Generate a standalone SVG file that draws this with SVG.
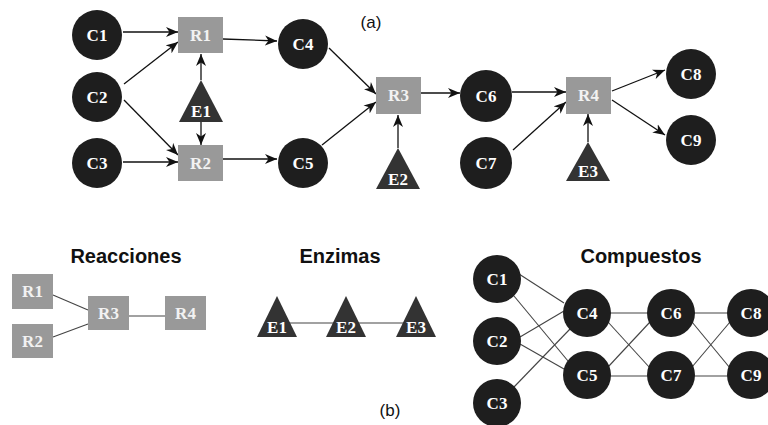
<svg xmlns="http://www.w3.org/2000/svg" width="768" height="425" viewBox="0 0 768 425">
<defs>
<marker id="arr" markerUnits="userSpaceOnUse" markerWidth="13" markerHeight="11" refX="12" refY="5.5" orient="auto">
<path d="M0,0.5 L12,5.5 L0,10.5 L3.5,5.5 z" fill="#111"/>
</marker>
<style>
.c{fill:#1e1e1e}
.r{fill:#999999}
.t{fill:#333333}
.lb{font-family:"Liberation Serif","Times New Roman",serif;font-weight:bold;font-size:17px;text-anchor:middle;fill:#ffffff}
.lr{font-family:"Liberation Serif","Times New Roman",serif;font-weight:bold;font-size:17px;text-anchor:middle;fill:#f2f2f2}
.ttl{font-family:"Liberation Sans",Arial,sans-serif;font-weight:bold;font-size:20px;text-anchor:middle;fill:#111}
.cap{font-family:"Liberation Sans",Arial,sans-serif;font-size:17px;text-anchor:middle;fill:#111}
.a{stroke:#111;stroke-width:1.3;fill:none;marker-end:url(#arr)}
.e{stroke:#444;stroke-width:1.1;fill:none}
</style>
</defs>
<rect width="768" height="425" fill="#ffffff"/>

<text class="cap" x="371" y="28">(a)</text>
<text class="cap" x="390" y="416">(b)</text>
<text class="ttl" x="126" y="263">Reacciones</text>
<text class="ttl" x="340" y="263">Enzimas</text>
<text class="ttl" x="641" y="263">Compuestos</text>

<g id="connectors">
<line class="a" x1="123" y1="32" x2="178" y2="32"/>
<line class="a" x1="124" y1="84" x2="178" y2="42"/>
<line class="a" x1="124" y1="100" x2="178" y2="155"/>
<line class="a" x1="123" y1="162" x2="178" y2="162"/>
<line class="a" x1="201" y1="80" x2="201" y2="54"/>
<line class="a" x1="201" y1="122" x2="201" y2="145"/>
<line class="a" x1="223" y1="39" x2="277" y2="41"/>
<line class="a" x1="223" y1="159" x2="277" y2="159"/>
<line class="a" x1="329" y1="48" x2="376" y2="94"/>
<line class="a" x1="322" y1="145" x2="376" y2="102"/>
<line class="a" x1="421" y1="93" x2="460" y2="93"/>
<line class="a" x1="398" y1="148" x2="398" y2="115"/>
<line class="a" x1="512" y1="92" x2="566" y2="92"/>
<line class="a" x1="513" y1="150" x2="566" y2="102"/>
<line class="a" x1="588" y1="142" x2="588" y2="114"/>
<line class="a" x1="612" y1="91" x2="665" y2="70"/>
<line class="a" x1="612" y1="100" x2="665" y2="135"/>

<line class="e" x1="53" y1="295" x2="88" y2="310"/>
<line class="e" x1="53" y1="337" x2="88" y2="324"/>
<line class="e" x1="129" y1="316" x2="165" y2="316"/>

<line class="e" x1="277" y1="323" x2="416" y2="323"/>

<line class="e" x1="519" y1="274" x2="564" y2="303"/>
<line class="e" x1="514" y1="296" x2="568" y2="361"/>
<line class="e" x1="520" y1="337" x2="564" y2="311"/>
<line class="e" x1="520" y1="344" x2="564" y2="369"/>
<line class="e" x1="514" y1="387" x2="570" y2="329"/>
<line class="e" x1="608" y1="313" x2="650" y2="313"/>
<line class="e" x1="608" y1="322" x2="650" y2="368"/>
<line class="e" x1="608" y1="367" x2="650" y2="322"/>
<line class="e" x1="608" y1="376" x2="650" y2="376"/>
<line class="e" x1="692" y1="313" x2="730" y2="313"/>
<line class="e" x1="692" y1="322" x2="730" y2="368"/>
<line class="e" x1="692" y1="367" x2="730" y2="322"/>
<line class="e" x1="692" y1="376" x2="730" y2="376"/>
</g>

<!-- (a) -->
<g id="a-C1"><circle class="c" cx="97" cy="35" r="25"/><text class="lb" x="97" y="41">C1</text></g>
<g id="a-C2"><circle class="c" cx="97" cy="97" r="25"/><text class="lb" x="97" y="103">C2</text></g>
<g id="a-C3"><circle class="c" cx="97" cy="163" r="25"/><text class="lb" x="97" y="169">C3</text></g>
<g id="a-R1"><rect class="r" x="178" y="17" width="45" height="36"/><text class="lr" x="200.5" y="41">R1</text></g>
<g id="a-R2"><rect class="r" x="178" y="145" width="45" height="36"/><text class="lr" x="200.5" y="169">R2</text></g>
<g id="a-E1"><polygon class="t" points="201,80 223,122 179,122"/><text class="lb" x="201" y="117">E1</text></g>
<g id="a-C4"><circle class="c" cx="303" cy="44" r="25"/><text class="lb" x="303" y="50">C4</text></g>
<g id="a-C5"><circle class="c" cx="303" cy="163" r="25"/><text class="lb" x="303" y="169">C5</text></g>
<g id="a-R3"><rect class="r" x="376" y="77" width="45" height="37"/><text class="lr" x="398.5" y="101">R3</text></g>
<g id="a-E2"><polygon class="t" points="398,148 420,189 376,189"/><text class="lb" x="398" y="185">E2</text></g>
<g id="a-C6"><circle class="c" cx="486" cy="96" r="26"/><text class="lb" x="486" y="102">C6</text></g>
<g id="a-C7"><circle class="c" cx="486" cy="163" r="26"/><text class="lb" x="486" y="169">C7</text></g>
<g id="a-R4"><rect class="r" x="566" y="77" width="45" height="37"/><text class="lr" x="588.5" y="101">R4</text></g>
<g id="a-E3"><polygon class="t" points="588,142 610,181 566,181"/><text class="lb" x="588" y="177">E3</text></g>
<g id="a-C8"><circle class="c" cx="691" cy="74" r="25"/><text class="lb" x="691" y="80">C8</text></g>
<g id="a-C9"><circle class="c" cx="691" cy="140" r="25"/><text class="lb" x="691" y="146">C9</text></g>

<!-- (b) Reacciones -->
<g id="b-R1"><rect class="r" x="12" y="274" width="41" height="35"/><text class="lr" x="32.5" y="297">R1</text></g>
<g id="b-R2"><rect class="r" x="12" y="324" width="41" height="34"/><text class="lr" x="32.5" y="347">R2</text></g>
<g id="b-R3"><rect class="r" x="88" y="296" width="41" height="34"/><text class="lr" x="108.5" y="319">R3</text></g>
<g id="b-R4"><rect class="r" x="165" y="296" width="41" height="34"/><text class="lr" x="185.5" y="319">R4</text></g>

<!-- (b) Enzimas -->
<g id="b-E1"><polygon class="t" points="277,296 297,337 257,337"/><text class="lb" x="277" y="333">E1</text></g>
<g id="b-E2"><polygon class="t" points="346,296 366,337 326,337"/><text class="lb" x="346" y="333">E2</text></g>
<g id="b-E3"><polygon class="t" points="416,296 436,337 396,337"/><text class="lb" x="416" y="333">E3</text></g>

<!-- (b) Compuestos -->
<g id="b-C1"><circle class="c" cx="497" cy="279" r="24"/><text class="lb" x="497" y="285">C1</text></g>
<g id="b-C2"><circle class="c" cx="497" cy="341" r="24"/><text class="lb" x="497" y="347">C2</text></g>
<g id="b-C3"><circle class="c" cx="497" cy="403" r="24"/><text class="lb" x="497" y="409">C3</text></g>
<g id="b-C4"><circle class="c" cx="587" cy="313" r="24"/><text class="lb" x="587" y="319">C4</text></g>
<g id="b-C5"><circle class="c" cx="587" cy="375" r="24"/><text class="lb" x="587" y="381">C5</text></g>
<g id="b-C6"><circle class="c" cx="671" cy="313" r="24"/><text class="lb" x="671" y="319">C6</text></g>
<g id="b-C7"><circle class="c" cx="671" cy="375" r="24"/><text class="lb" x="671" y="381">C7</text></g>
<g id="b-C8"><circle class="c" cx="751" cy="313" r="24"/><text class="lb" x="751" y="319">C8</text></g>
<g id="b-C9"><circle class="c" cx="751" cy="375" r="24"/><text class="lb" x="751" y="381">C9</text></g>
</svg>
